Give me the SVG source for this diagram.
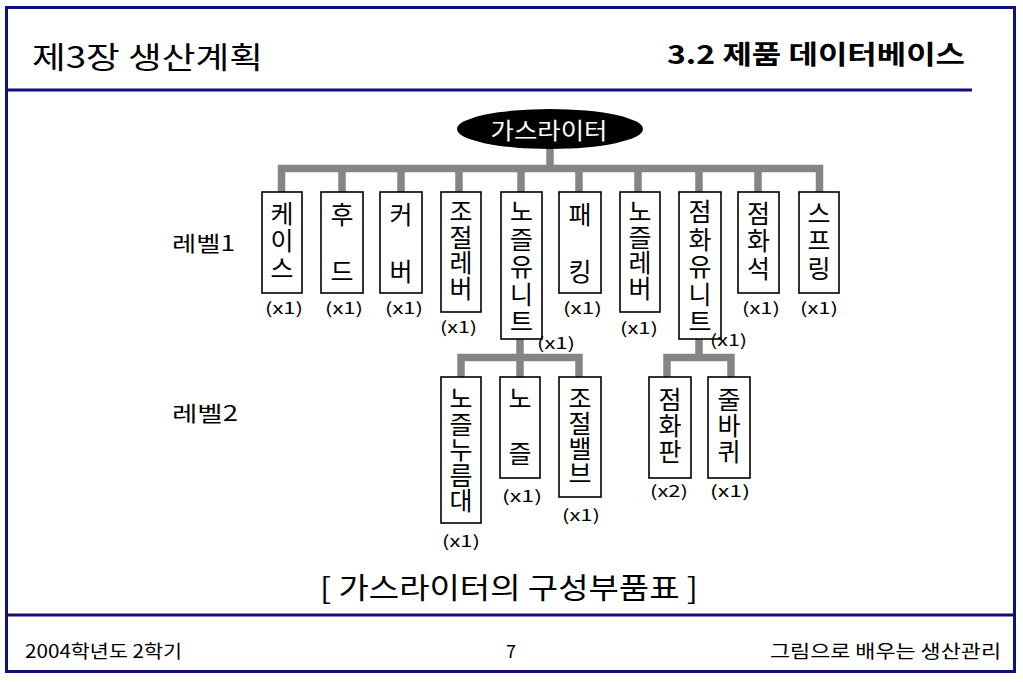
<svg xmlns="http://www.w3.org/2000/svg" width="1023" height="682" viewBox="0 0 1023 682">
<style>
text{font-family:"Noto Sans CJK KR","Noto Sans",sans-serif;fill:#000;dominant-baseline:central}
.frame{fill:none;stroke:#10107a;stroke-width:3}
.rule{stroke:#10107a;stroke-width:3}
.box{fill:#fff;stroke:#000;stroke-width:1.6}
.con{fill:none;stroke:#858585;stroke-width:7.5;stroke-linejoin:miter}
.v{font-size:25px;writing-mode:vertical-rl;text-orientation:upright}
.q{font-size:16px}
.lvl{font-size:21px}
.foot{font-size:18px}
</style>
<rect x="0" y="0" width="1023" height="682" fill="#fff"/>
<g id="frame">
<rect class="frame" x="6.5" y="7.5" width="1008" height="664"/>
<line class="rule" x1="8" y1="90" x2="972" y2="90"/>
<line class="rule" x1="8" y1="615" x2="1014" y2="615"/>
</g>
<g id="header">
<text x="32" y="55" style="font-size:30px" textLength="231" lengthAdjust="spacingAndGlyphs">제3장 생산계획</text>
<text x="667" y="52" style="font-size:26px;font-weight:bold" textLength="298" lengthAdjust="spacingAndGlyphs">3.2 제품 데이터베이스</text>
</g>
<g id="connectors">
<path class="con" d="M550 145 V168.5"/>
<path class="con" d="M281.5 192 V168.5 H819.5 V192"/>
<path class="con" d="M342 168.5 V192 M401 168.5 V192 M459 168.5 V192 M521 168.5 V192 M579 168.5 V192 M638 168.5 V192 M699 168.5 V192 M758 168.5 V192"/>
<path class="con" d="M461 377 V357.5 H579 V377 M520 339 V377"/>
<path class="con" d="M667 377 V357.5 H731 V377 M699 339 V357.5"/>
</g>
<g id="root">
<ellipse cx="550" cy="129" rx="93" ry="20" fill="#000"/>
<text x="549" y="129" style="font-size:23px;fill:#fff" text-anchor="middle" textLength="117" lengthAdjust="spacingAndGlyphs">가스라이터</text>
</g>
<g id="levels">
<text class="lvl" x="172" y="242" textLength="63" lengthAdjust="spacingAndGlyphs">레벨1</text>
<text class="lvl" x="172" y="412" textLength="66" lengthAdjust="spacingAndGlyphs">레벨2</text>
</g>
<g id="n-case">
<rect class="box" x="262" y="192" width="40" height="101"/>
<text class="v" x="282" y="200.5" style="letter-spacing:2.5px">케이스</text>
<text class="q" x="265" y="307" textLength="38" lengthAdjust="spacingAndGlyphs">(x1)</text>
</g>
<g id="n-hood">
<rect class="box" x="321" y="192" width="42" height="101"/>
<text class="v" x="342" y="201.5" style="letter-spacing:3.5px">후　드</text>
<text class="q" x="325" y="307" textLength="38" lengthAdjust="spacingAndGlyphs">(x1)</text>
</g>
<g id="n-cover">
<rect class="box" x="380" y="192" width="42" height="101"/>
<text class="v" x="401" y="201.5" style="letter-spacing:3.5px">커　버</text>
<text class="q" x="385" y="307" textLength="38" lengthAdjust="spacingAndGlyphs">(x1)</text>
</g>
<g id="n-adjlever">
<rect class="box" x="441" y="192" width="40" height="120"/>
<text class="v" x="461" y="199" style="letter-spacing:0.7px">조절레버</text>
<text class="q" x="440" y="326" textLength="37" lengthAdjust="spacingAndGlyphs">(x1)</text>
</g>
<g id="n-nozzleunit">
<rect class="box" x="501" y="192" width="41" height="147"/>
<text class="v" x="521.5" y="199" style="letter-spacing:2.5px">노즐유니트</text>
<text class="q" x="537" y="342" textLength="38" lengthAdjust="spacingAndGlyphs">(x1)</text>
</g>
<g id="n-packing">
<rect class="box" x="559" y="192" width="42" height="101"/>
<text class="v" x="580" y="201.5" style="letter-spacing:3.5px">패　킹</text>
<text class="q" x="563" y="307" textLength="39" lengthAdjust="spacingAndGlyphs">(x1)</text>
</g>
<g id="n-nozzlelever">
<rect class="box" x="620" y="192" width="40" height="120"/>
<text class="v" x="640" y="199" style="letter-spacing:0.7px">노즐레버</text>
<text class="q" x="620" y="327" textLength="38" lengthAdjust="spacingAndGlyphs">(x1)</text>
</g>
<g id="n-ignitionunit">
<rect class="box" x="679" y="192" width="42" height="147"/>
<text class="v" x="700" y="199" style="letter-spacing:2.5px">점화유니트</text>
<text class="q" x="710" y="339" textLength="37" lengthAdjust="spacingAndGlyphs">(x1)</text>
</g>
<g id="n-flint">
<rect class="box" x="738" y="192" width="41" height="101"/>
<text class="v" x="758.5" y="200.5" style="letter-spacing:2.5px">점화석</text>
<text class="q" x="742" y="307" textLength="38" lengthAdjust="spacingAndGlyphs">(x1)</text>
</g>
<g id="n-spring">
<rect class="box" x="799" y="192" width="40" height="101"/>
<text class="v" x="819" y="200.5" style="letter-spacing:2.5px">스프링</text>
<text class="q" x="800" y="307" textLength="38" lengthAdjust="spacingAndGlyphs">(x1)</text>
</g>
<g id="n-nozzlepress">
<rect class="box" x="441" y="377" width="40" height="146"/>
<text class="v" x="461" y="386" style="letter-spacing:0.5px">노즐누름대</text>
<text class="q" x="442" y="540" textLength="38" lengthAdjust="spacingAndGlyphs">(x1)</text>
</g>
<g id="n-nozzle">
<rect class="box" x="500" y="377" width="40" height="101"/>
<text class="v" x="520" y="385.5" style="letter-spacing:2.75px">노　즐</text>
<text class="q" x="502" y="495" textLength="40" lengthAdjust="spacingAndGlyphs">(x1)</text>
</g>
<g id="n-valve">
<rect class="box" x="559" y="377" width="42" height="120"/>
<text class="v" x="580" y="386">조절밸브</text>
<text class="q" x="562" y="514" textLength="38" lengthAdjust="spacingAndGlyphs">(x1)</text>
</g>
<g id="n-ignitionplate">
<rect class="box" x="649" y="377" width="42" height="101"/>
<text class="v" x="670" y="387" style="letter-spacing:1px">점화판</text>
<text class="q" x="650" y="490" textLength="38" lengthAdjust="spacingAndGlyphs">(x2)</text>
</g>
<g id="n-wheel">
<rect class="box" x="708" y="377" width="42" height="101"/>
<text class="v" x="729" y="387" style="letter-spacing:1px">줄바퀴</text>
<text class="q" x="710" y="490" textLength="40" lengthAdjust="spacingAndGlyphs">(x1)</text>
</g>
<g id="caption">
<text x="320" y="586" style="font-size:29px" textLength="378" lengthAdjust="spacingAndGlyphs">[ 가스라이터의 구성부품표 ]</text>
</g>
<g id="footer">
<text class="foot" x="25" y="650" textLength="157" lengthAdjust="spacingAndGlyphs">2004학년도 2학기</text>
<text class="foot" x="511" y="650" text-anchor="middle">7</text>
<text class="foot" x="770" y="650" textLength="231" lengthAdjust="spacingAndGlyphs">그림으로 배우는 생산관리</text>
</g>
</svg>
